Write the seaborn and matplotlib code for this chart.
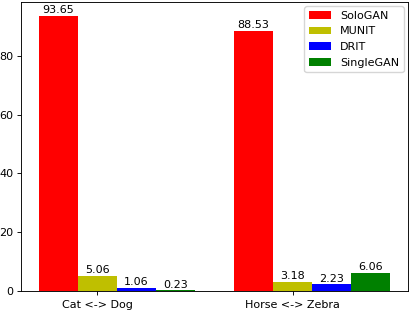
import matplotlib
matplotlib.use('Agg')
import matplotlib.pyplot as plt
import pandas as pd
import seaborn as sns

# Values
tasks = ['Cat <-> Dog', 'Horse <-> Zebra']
methods = ['SoloGAN', 'MUNIT', 'DRIT', 'SingleGAN']
sologan = [93.65, 88.53]
munit = [5.06, 3.18]
drit = [1.06, 2.23]
singlegan = [0.23, 6.06]
colors = ['#ff0000', '#bfbf00', '#0000ff', '#008000']

df = pd.DataFrame({'task': tasks * 4,
                   'method': [m for m in methods for _ in tasks],
                   'score': sologan + munit + drit + singlegan})

plt.rcParams['font.size'] = 8
plt.rcParams['axes.linewidth'] = 0.65
plt.rcParams['xtick.major.width'] = 0.65
plt.rcParams['ytick.major.width'] = 0.65
plt.rcParams['xtick.major.size'] = 3.2
plt.rcParams['ytick.major.size'] = 3.2
plt.rcParams['ytick.major.pad'] = 2.5

fig = plt.figure(figsize=(4.1, 3.1), dpi=100)
ax = fig.add_axes([21 / 410, 19 / 310, 387 / 410, 289 / 310])

sns.barplot(df, x='task', y='score', hue='method', hue_order=methods,
            palette=colors, saturation=1, width=0.8, linewidth=0,
            errorbar=None, ax=ax)

# value labels on top of each bar
for cont in ax.containers:
    ax.bar_label(cont, fmt='%.2f', padding=0.5, fontsize=8)

ax.set_xticks([-0.1, 0.9], tasks)
ax.set_xlim(-0.49, 1.49)
ax.set_ylim(0, 98.33)
ax.set_xlabel('')
ax.set_ylabel('')
ax.legend(loc='upper right', fontsize=8, handlelength=2.0, framealpha=0.8,
          borderaxespad=0.4)

fig.savefig('out.png', dpi=100)
